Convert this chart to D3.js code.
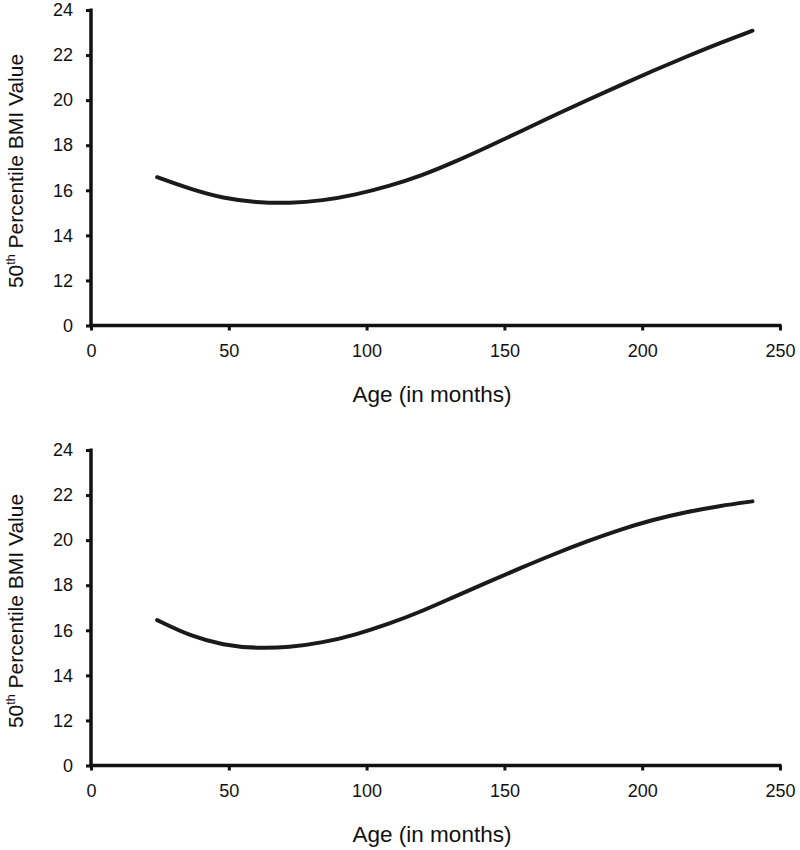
<!DOCTYPE html>
<html>
<head>
<meta charset="utf-8">
<script src="https://cdn.jsdelivr.net/npm/d3@7"></script>
<style>
  body { margin: 0; background: #fff; }
  svg { display: block; }
  text { font-family: "Liberation Sans", Arial, sans-serif; fill: #111; }
</style>
</head>
<body>
<svg id="chart" width="800" height="850"></svg>
<script>
// Data (age in months, 50th percentile BMI)
const ages = [24, 36, 48, 60, 72, 84, 96, 108, 120, 132, 144, 156, 168, 180, 192, 204, 216, 228, 240];
const bmiTop = [16.58, 16.05, 15.64, 15.46, 15.42, 15.54, 15.8, 16.18, 16.65, 17.26, 17.93, 18.62, 19.32, 20.0, 20.66, 21.31, 21.93, 22.53, 23.08];
const bmiBottom = [16.45, 15.74, 15.34, 15.2, 15.24, 15.45, 15.8, 16.28, 16.84, 17.5, 18.14, 18.77, 19.38, 19.95, 20.47, 20.91, 21.25, 21.52, 21.72];
const xTicks = [0, 50, 100, 150, 200, 250];
// Broken y axis: the lowest tick is labelled "0" but sits one step below 12
const yTickValues = [10, 12, 14, 16, 18, 20, 22, 24];
const yTickLabels = ["0", "12", "14", "16", "18", "20", "22", "24"];
const xTitle = "Age (in months)";

const svg = d3.select("#chart");

function drawPanel(top, values) {
  const x = d3.scaleLinear().domain([0, 250]).range([91, 780]);
  const y = d3.scaleLinear().domain([10, 24]).range([top + 315.5, top]);
  const g = svg.append("g");

  const xAxis = g.append("g")
    .attr("transform", `translate(0,${top + 315.5})`)
    .call(d3.axisBottom(x).tickValues(xTicks).tickSizeOuter(0).tickSizeInner(5).tickPadding(14).tickFormat(d3.format("d")));
  const yAxis = g.append("g")
    .attr("transform", `translate(91,0)`)
    .call(d3.axisLeft(y).tickValues(yTickValues).tickSizeOuter(0).tickSizeInner(5).tickPadding(13)
      .tickFormat((d, i) => yTickLabels[i]));

  [xAxis, yAxis].forEach(ax => {
    ax.select(".domain").attr("stroke", "#111").attr("stroke-width", 3.5);
    ax.selectAll(".tick line").attr("stroke", "#111").attr("stroke-width", 3);
    ax.selectAll(".tick text").attr("font-size", 18).attr("fill", "#111")
      .attr("font-family", "'Liberation Sans', Arial, sans-serif");
  });
  xAxis.select(".domain").attr("d", `M${89.3},0H${781.5}`);
  yAxis.select(".domain").attr("d", `M0,${top - 1.5}V${top + 317}`);

  const line = d3.line()
    .x((d, i) => x(ages[i]))
    .y(d => y(d))
    .curve(d3.curveBasis);
  g.append("path")
    .datum(values)
    .attr("d", line)
    .attr("fill", "none")
    .attr("stroke", "#1a1a1a")
    .attr("stroke-width", 4)
    .attr("stroke-linecap", "round");

  g.append("text")
    .attr("x", 432)
    .attr("y", top + 392)
    .attr("text-anchor", "middle")
    .attr("font-size", 22.5)
    .text(xTitle);

  const yt = g.append("text")
    .attr("transform", `translate(23,${top + 161}) rotate(-90)`)
    .attr("text-anchor", "middle")
    .attr("font-size", 21);
  yt.append("tspan").text("50");
  yt.append("tspan").attr("font-size", 12.5).attr("dy", -8).text("th");
  yt.append("tspan").attr("dy", 8).text(" Percentile BMI Value");
}

drawPanel(10, bmiTop);
drawPanel(450, bmiBottom);
</script>
</body>
</html>
